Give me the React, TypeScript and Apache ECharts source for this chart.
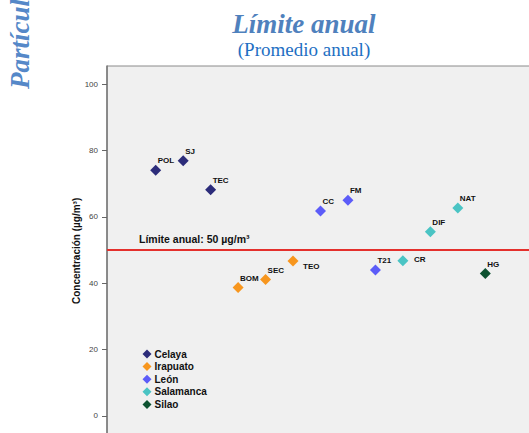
import React, { useEffect, useRef } from "react";
import * as echarts from "echarts";

const sites = ["POL", "SJ", "TEC", "BOM", "SEC", "TEO", "CC", "FM", "T21", "CR", "DIF", "NAT", "HG"];
const siteValues = [74.1, 76.9, 68.2, 38.7, 41.1, 46.7, 61.8, 65.0, 44.0, 46.8, 55.5, 62.7, 42.9];
const siteCity = ["Celaya", "Celaya", "Celaya", "Irapuato", "Irapuato", "Irapuato", "León", "León", "León", "Salamanca", "Salamanca", "Salamanca", "Silao"];
const cities = ["Celaya", "Irapuato", "León", "Salamanca", "Silao"];
const cityColors = ["#2c2c7a", "#f7961e", "#5c5cf8", "#4ac4c4", "#0d5230"];
const yTicks = [0, 20, 40, 60, 80, 100];
const limitValue = 50;
const limitLabel = "Límite anual: 50 µg/m³";

const SANS = "'Liberation Sans', Arial, sans-serif";
const SERIF = "'Liberation Serif', 'Times New Roman', serif";

export default function App() {
  const ref = useRef<HTMLDivElement>(null);
  useEffect(() => {
    if (!ref.current) return;
    const chart = echarts.init(ref.current, null, { renderer: "svg" });

    const series: any[] = cities.map((city, ci) => {
      const data: any[] = [];
      sites.forEach((s, i) => {
        if (siteCity[i] !== city) return;
        const item: any = { value: [i + 1, siteValues[i]], name: s };
        if (s === "TEO") item.label = { position: [15.5, 10.5] };
        if (s === "CR") item.label = { position: [16.5, 4.5] };
        data.push(item);
      });
      const ser: any = {
        name: city,
        type: "scatter",
        symbol: "diamond",
        symbolSize: 11,
        itemStyle: { color: cityColors[ci], opacity: 1 },
        label: {
          show: true,
          formatter: (p: any) => p.name,
          position: [7.5, -4],
          align: "left",
          verticalAlign: "middle",
          color: "#111",
          fontFamily: SANS,
          fontWeight: "bold",
          fontSize: 8,
        },
        data,
      };
      if (ci === 0) {
        ser.markLine = {
          silent: true,
          symbol: "none",
          lineStyle: { color: "#e4302c", width: 2, type: "solid" },
          label: {
            show: true,
            position: "insideStartTop",
            distance: [32, 6],
            formatter: limitLabel,
            color: "#111",
            fontFamily: SANS,
            fontWeight: "bold",
            fontSize: 10.5,
          },
          data: [{ yAxis: limitValue }],
        };
      }
      return ser;
    });

    chart.setOption({
      animation: false,
      backgroundColor: "#ffffff",
      title: [
        {
          text: "Límite anual",
          left: 299,
          top: 5,
          textAlign: "center",
          textStyle: {
            fontFamily: SERIF,
            fontStyle: "italic",
            fontWeight: "bold",
            fontSize: 27,
            color: "#4f81bd",
          },
        },
        {
          text: "(Promedio anual)",
          left: 299,
          top: 35,
          textAlign: "center",
          textStyle: {
            fontFamily: SERIF,
            fontWeight: "normal",
            fontSize: 19,
            color: "#1e6fc3",
          },
        },
      ],
      graphic: [
        {
          type: "text",
          x: 19.5,
          y: 89,
          rotation: Math.PI / 2,
          style: {
            text: "Partículas",
            font: "italic bold 27px 'Liberation Serif', serif",
            fill: "#5588c8",
            textAlign: "left",
            textVerticalAlign: "middle",
          },
        },
      ],
      legend: {
        orient: "vertical",
        left: 142.5,
        top: 348,
        padding: 0,
        itemGap: 0.6,
        itemWidth: 9,
        itemHeight: 9,
        icon: "diamond",
        data: cities,
        textStyle: {
          fontFamily: SANS,
          fontWeight: "bold",
          fontSize: 10,
          lineHeight: 12,
          color: "#111",
          padding: [0, 0, 0, -2],
        },
      },
      grid: {
        left: 107,
        top: 66,
        right: 0,
        bottom: 24.2,
        show: true,
        backgroundColor: "#f0f0f0",
        borderColor: "#8a8a8a",
        borderWidth: 1,
      },
      xAxis: {
        type: "value",
        min: -0.773,
        max: 15.72,
        show: false,
        splitLine: { show: false },
      },
      yAxis: {
        type: "value",
        min: -6,
        max: 105.5,
        name: "Concentración (µg/m³)",
        nameLocation: "middle",
        nameGap: 26,
        nameMoveOverlap: false,
        nameTextStyle: {
          fontFamily: SANS,
          fontWeight: "bold",
          fontSize: 10,
          color: "#111",
        },
        axisLine: { show: true, onZero: false, lineStyle: { color: "#777", width: 1.5 } },
        axisTick: {
          show: true,
          length: 5,
          customValues: yTicks,
          lineStyle: { color: "#666" },
        },
        axisLabel: {
          customValues: yTicks,
          margin: 9,
          fontFamily: SANS,
          fontSize: 8,
          color: "#444",
        },
        splitLine: { show: false },
      },
      series,
    });
    return () => chart.dispose();
  }, []);

  return (
    <div
      style={{
        position: "fixed",
        left: 0,
        top: 0,
        width: 529,
        height: 433,
        overflow: "hidden",
        background: "#fff",
      }}
    >
      <div ref={ref} style={{ width: 560, height: 460 }} />
    </div>
  );
}
